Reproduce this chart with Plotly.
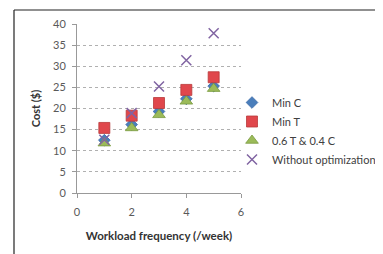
import plotly.graph_objects as go

freq = [1, 2, 3, 4, 5]
min_c = [12.5, 16.2, 19.3, 22.3, 25.3]
min_t = [15.4, 18.3, 21.3, 24.4, 27.4]
mix = [11.8, 15.4, 18.5, 21.7, 24.7]
no_opt = [12.6, 18.9, 25.2, 31.4, 37.8]

names = ["Min C", "Min T", "0.6 T & 0.4 C", "Without optimization"]
series = [min_c, min_t, mix, no_opt]
symbols = ["diamond", "square", "triangle-up", "x-thin"]
colors = ["#4A7EBB", "#E0474C", "#9BBB59", "#8064A2"]
lines = ["#3A6AA8", "#B93A3A", "#7A9A40", "#8064A2"]
sizes = [9, 11, 11, 10]

fig = go.Figure()
for n, s, sym, c, lc, sz in zip(names, series, symbols, colors, lines, sizes):
    if sym == "x-thin":
        marker = dict(symbol=sym, size=sz, color=c, line=dict(color=c, width=1.5))
    else:
        marker = dict(symbol=sym, size=sz, color=c, line=dict(color=lc, width=0.8))
    fig.add_trace(go.Scatter(x=freq, y=s, mode="markers", name=n, marker=marker))

# page body has an 8px margin; work in figure coordinates
OFF = 8
W, H = 383 - OFF, 254 - OFF
L, T = 77 - OFF, 24 - OFF
R = W - (241 - OFF)
B = H - (193 - OFF)
pw, ph = W - L - R, H - T - B
px = lambda x: (x - OFF - L) / pw          # screen px -> paper x
py = lambda y: (H - B - (y - OFF)) / ph    # screen px -> paper y

fig.update_layout(
    width=W, height=H,
    margin=dict(l=L, r=R, t=T, b=B, autoexpand=False),
    paper_bgcolor="white", plot_bgcolor="white",
    font=dict(family="Lato, Open Sans, sans-serif", size=11, color="#595959"),
    showlegend=True,
    legend=dict(x=px(232), y=py(131), xanchor="left", yanchor="middle",
                font=dict(size=11, color="#404040"), itemwidth=30,
                tracegroupgap=0, bgcolor="rgba(0,0,0,0)"),
    xaxis=dict(range=[0, 6], dtick=2, showgrid=False, zeroline=False,
               automargin=False, ticklabelstandoff=5,
               showline=True, linecolor="#999", ticks="outside", ticklen=4,
               tickcolor="#999", tickfont=dict(size=11, color="#595959"),
               title=dict(text="<b>Workload frequency (/week)</b>", standoff=14,
                          font=dict(size=11.5, color="#333"))),
    yaxis=dict(range=[0, 40], dtick=5, showgrid=True, gridcolor="#b0b0b0",
               automargin=False, ticklabelstandoff=4,
               griddash="dot", zeroline=False, showline=True, linecolor="#999",
               ticks="outside", ticklen=4, tickcolor="#999",
               tickfont=dict(size=11, color="#595959"),
               title=dict(text="<b>Cost ($)</b>", standoff=10,
                          font=dict(size=11, color="#333"))),
    shapes=[
        dict(type="line", xref="paper", yref="paper", x0=px(14), x1=px(383),
             y0=py(10), y1=py(10), line=dict(color="#222", width=1.2)),
        dict(type="line", xref="paper", yref="paper", x0=px(14), x1=px(14),
             y0=py(10), y1=py(254), line=dict(color="#222", width=1.2)),
    ],
)

fig.write_html("out.html")
